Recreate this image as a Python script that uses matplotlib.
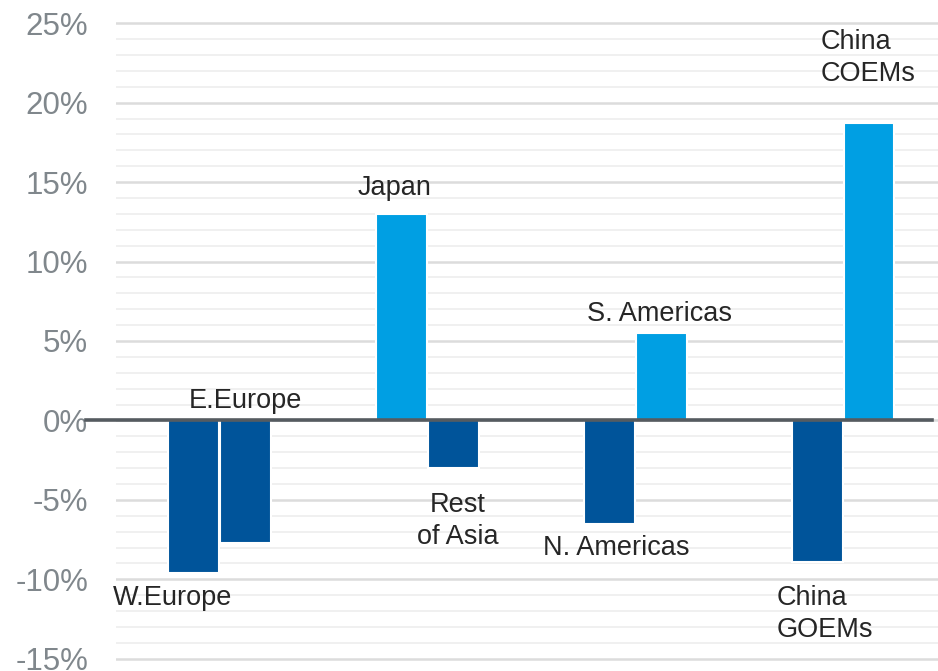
import numpy as np
import matplotlib.pyplot as plt
from matplotlib.ticker import MultipleLocator, FuncFormatter

plt.rcParams['font.family'] = ['Liberation Sans', 'DejaVu Sans']

# Regional change, two bars per group
regions = ["W.Europe", "E.Europe", "Japan", "Rest\nof Asia",
           "N. Americas", "S. Americas", "China\nGOEMs", "China\nCOEMs"]
changes = [-9.6, -7.7, 13.0, -3.0, -6.5, 5.5, -8.9, 18.7]
groups = [0, 0, 1, 1, 2, 2, 3, 3]
sides = [-1, 1, -1, 1, -1, 1, -1, 1]

# where each region name sits (data coords) and how it is aligned
label_pos = [(-0.23, -11.2), (0.125, 1.25), (0.84, 14.6), (1.145, -6.3),
             (1.91, -8.05), (2.115, 6.7), (2.68, -12.2), (2.89, 22.8)]
label_ha = ["center", "center", "center", "center",
            "center", "center", "left", "left"]

DARK = "#00549A"
LIGHT = "#009FE3"

fig = plt.figure(figsize=(9.38, 6.71), dpi=100)
ax = fig.add_axes([116 / 938, 1 - 662 / 671, (938 - 116) / 938, (662 - 20) / 671])

xs = np.array(groups) + 0.125 * np.array(sides)
colors = [LIGHT if v > 0 else DARK for v in changes]
ax.bar(xs, changes, width=0.245, color=colors, edgecolor="white",
       linewidth=1.5, zorder=3)

for name, (lx, ly), ha in zip(regions, label_pos, label_ha):
    ax.text(lx, ly, name, ha=ha, va="center", fontsize=19.5,
            color="#262626", linespacing=1.3, zorder=5)

ax.set_xlim(-0.5, 3.457)
ax.set_ylim(-15.2, 25.2)

# light grid every 1%, slightly stronger every 5%
ax.yaxis.set_major_locator(MultipleLocator(5))
ax.yaxis.set_minor_locator(MultipleLocator(1))
ax.grid(which="minor", axis="y", color="#F0F0F0", linewidth=1.4, zorder=0)
ax.grid(which="major", axis="y", color="#DCDCDC", linewidth=1.8, zorder=0)
ax.set_axisbelow(True)
ax.yaxis.set_major_formatter(FuncFormatter(lambda v, p: f"{v:.0f}%"))
ax.tick_params(axis="y", which="both", length=0, pad=20,
               labelsize=22.5, labelcolor="#80878C")
ax.set_xticks([])
for s in ax.spines.values():
    s.set_visible(False)

# zero line reaching out toward the 0% label
ax.axhline(0, xmin=-0.036, xmax=0.993, color="#555B60", linewidth=2.6,
           clip_on=False, zorder=4)

fig.savefig("out.png", dpi=100)
